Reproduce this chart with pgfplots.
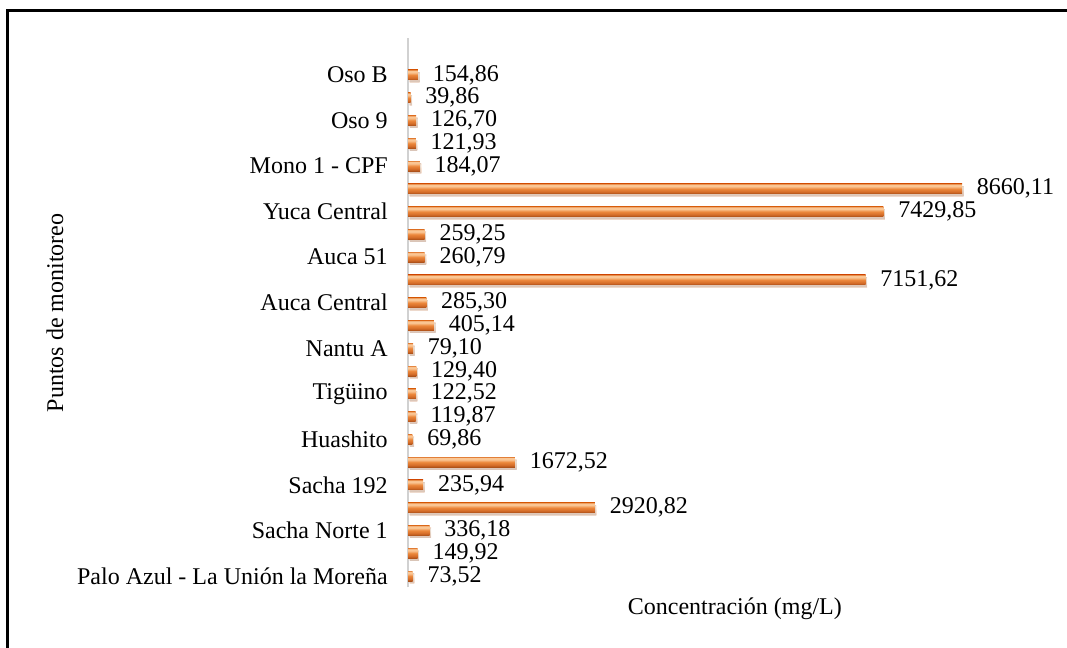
\documentclass[border=0pt]{standalone}
\usepackage{fontspec}
\setmainfont{Liberation Serif}
\usepackage{pgfplots}
\pgfplotsset{compat=1.18}
\usetikzlibrary{shadows}
\definecolor{bartopedge}{RGB}{230,138,70}
\definecolor{barhi}{RGB}{250,198,148}
\definecolor{barmid}{RGB}{236,136,60}
\definecolor{barlow}{RGB}{212,108,40}
\definecolor{barbot}{RGB}{172,80,24}
\pgfdeclareverticalshading{barshade}{100bp}{color(0bp)=(barbot); color(25bp)=(barbot); color(35bp)=(barlow); color(50bp)=(barmid); color(63bp)=(barhi); color(71bp)=(barhi); color(75bp)=(bartopedge); color(100bp)=(bartopedge)}
\newcommand\fs{\fontsize{18}{21}\selectfont}
\pgfplotsset{mybar/.style={draw=none, shading=barshade,
  drop shadow={shadow xshift=1.2pt, shadow yshift=-1.8pt, opacity=0.22}}}
\begin{document}
\begin{tikzpicture}
\useasboundingbox (0,0) rectangle (800.25pt,-485.25pt);
\draw[line width=2.2pt, line cap=rect] (5.6pt,-490pt) -- (5.6pt,-7.9pt) -- (805pt,-7.9pt);
\begin{axis}[
  at={(306pt,-440.55pt)}, anchor=south west,
  scale only axis, width=479.8pt, height=412pt,
  xmin=0, xmax=10000, ymin=0.5, ymax=24.62,
  xbar, bar width=7.5pt, bar shift=0pt,
  axis lines*=left,
  x axis line style={draw=none},
  y axis line style={draw=black!18, line width=1.5pt},
  xtick=\empty,
  ytick={1,3,...,23},
  yticklabels={Palo Azul - La Unión la Moreña, Sacha Norte 1, Sacha 192, Huashito, Tigüino, Nantu A, Auca Central, Auca 51, Yuca Central, Mono 1 - CPF, Oso 9, Oso B},
  major tick length=0pt,
  ytick style={draw=none},
  y tick label style={font=\fs, anchor=east, inner sep=0pt, xshift=-15pt},
  xlabel={Concentración (mg/L)},
  ylabel={Puntos de monitoreo},
  label style={font=\fs},
  xlabel style={at={([xshift=5.25pt,yshift=-15.75pt]rel axis cs:0.5,0)}, anchor=center},
  ylabel style={at={([xshift=-264.75pt]rel axis cs:0,0.5)}, anchor=center},
  nodes near coords,
  every node near coord/.append style={font=\fs, anchor=west, inner sep=0pt, xshift=11pt,
    /pgf/number format/.cd, fixed, fixed zerofill, precision=2, use comma, 1000 sep={}, assume math mode=true},
  clip=false,
]
\addplot[mybar] coordinates {(73.52,1)};
\addplot[mybar] coordinates {(149.92,2)};
\addplot[mybar] coordinates {(336.18,3)};
\addplot[mybar] coordinates {(2920.82,4)};
\addplot[mybar] coordinates {(235.94,5)};
\addplot[mybar] coordinates {(1672.52,6)};
\addplot[mybar] coordinates {(69.86,7)};
\addplot[mybar] coordinates {(119.87,8)};
\addplot[mybar] coordinates {(122.52,9)};
\addplot[mybar] coordinates {(129.40,10)};
\addplot[mybar] coordinates {(79.10,11)};
\addplot[mybar] coordinates {(405.14,12)};
\addplot[mybar] coordinates {(285.30,13)};
\addplot[mybar] coordinates {(7151.62,14)};
\addplot[mybar] coordinates {(260.79,15)};
\addplot[mybar] coordinates {(259.25,16)};
\addplot[mybar] coordinates {(7429.85,17)};
\addplot[mybar] coordinates {(8660.11,18)};
\addplot[mybar] coordinates {(184.07,19)};
\addplot[mybar] coordinates {(121.93,20)};
\addplot[mybar] coordinates {(126.70,21)};
\addplot[mybar] coordinates {(39.86,22)};
\addplot[mybar] coordinates {(154.86,23)};
\end{axis}
\end{tikzpicture}
\end{document}
